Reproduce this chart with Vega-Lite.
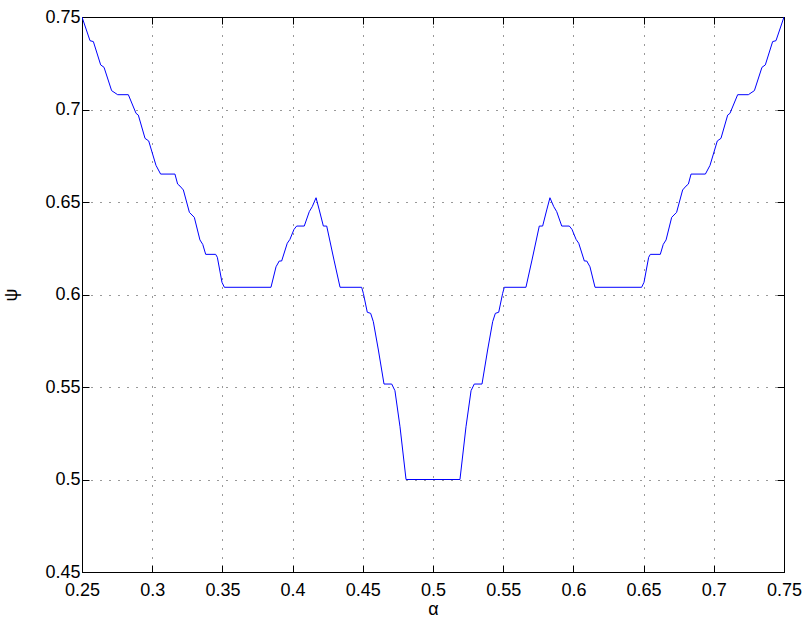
{
  "$schema": "https://vega.github.io/schema/vega-lite/v6.json",
  "width": 702,
  "height": 555,
  "autosize": {"type": "none"},
  "padding": {"left": 82, "top": 17, "right": 22, "bottom": 47},
  "background": "white",
  "config": {
    "view": {"stroke": "black", "strokeWidth": 1},
    "font": "Liberation Sans",
    "axis": {
      "domainColor": "black",
      "domainWidth": 1,
      "tickColor": "black",
      "tickSize": -7,
      "tickWidth": 1,
      "labelColor": "black",
      "labelFont": "Liberation Sans",
      "labelFontSize": 18,
      "titleFont": "Liberation Sans",
      "titleFontSize": 18,
      "titleFontWeight": "normal",
      "titleColor": "black",
      "gridColor": "black",
      "gridDash": [1, 8],
      "gridWidth": 1,
      "gridOpacity": 0.8
    }
  },
  "data": {
    "values": [
      {"alpha": 0.25, "psi": 0.75},
      {"alpha": 0.2557, "psi": 0.7372},
      {"alpha": 0.2581, "psi": 0.7367},
      {"alpha": 0.2633, "psi": 0.7241},
      {"alpha": 0.2657, "psi": 0.7228},
      {"alpha": 0.2711, "psi": 0.7102},
      {"alpha": 0.2754, "psi": 0.708},
      {"alpha": 0.283, "psi": 0.708},
      {"alpha": 0.2885, "psi": 0.6979},
      {"alpha": 0.2901, "psi": 0.697},
      {"alpha": 0.2949, "psi": 0.6844},
      {"alpha": 0.2975, "psi": 0.683},
      {"alpha": 0.3027, "psi": 0.6698},
      {"alpha": 0.306, "psi": 0.6651},
      {"alpha": 0.3162, "psi": 0.6651},
      {"alpha": 0.3181, "psi": 0.6597},
      {"alpha": 0.3198, "psi": 0.6586},
      {"alpha": 0.3222, "psi": 0.6565},
      {"alpha": 0.3265, "psi": 0.6444},
      {"alpha": 0.33, "psi": 0.6417},
      {"alpha": 0.334, "psi": 0.6295},
      {"alpha": 0.336, "psi": 0.6271},
      {"alpha": 0.3381, "psi": 0.6217},
      {"alpha": 0.3452, "psi": 0.6217},
      {"alpha": 0.3464, "psi": 0.6201},
      {"alpha": 0.3497, "psi": 0.6066},
      {"alpha": 0.3514, "psi": 0.6039},
      {"alpha": 0.3846, "psi": 0.6039},
      {"alpha": 0.3882, "psi": 0.615},
      {"alpha": 0.3905, "psi": 0.6181},
      {"alpha": 0.3922, "psi": 0.6181},
      {"alpha": 0.3962, "psi": 0.6277},
      {"alpha": 0.3981, "psi": 0.6298},
      {"alpha": 0.401, "psi": 0.6352},
      {"alpha": 0.4029, "psi": 0.637},
      {"alpha": 0.4083, "psi": 0.637},
      {"alpha": 0.4119, "psi": 0.6448},
      {"alpha": 0.414, "psi": 0.6475},
      {"alpha": 0.4167, "psi": 0.6523},
      {"alpha": 0.419, "psi": 0.6457},
      {"alpha": 0.4219, "psi": 0.637},
      {"alpha": 0.4243, "psi": 0.637},
      {"alpha": 0.4295, "psi": 0.6186},
      {"alpha": 0.4338, "psi": 0.6039},
      {"alpha": 0.4492, "psi": 0.6039},
      {"alpha": 0.4504, "psi": 0.6006},
      {"alpha": 0.4532, "psi": 0.5904},
      {"alpha": 0.4556, "psi": 0.5898},
      {"alpha": 0.4575, "psi": 0.5853},
      {"alpha": 0.4611, "psi": 0.57},
      {"alpha": 0.4651, "psi": 0.5516},
      {"alpha": 0.4706, "psi": 0.5516},
      {"alpha": 0.4729, "psi": 0.548},
      {"alpha": 0.4765, "psi": 0.5285},
      {"alpha": 0.4808, "psi": 0.5},
      {"alpha": 0.5192, "psi": 0.5},
      {"alpha": 0.5235, "psi": 0.5285},
      {"alpha": 0.5271, "psi": 0.548},
      {"alpha": 0.5294, "psi": 0.5516},
      {"alpha": 0.5349, "psi": 0.5516},
      {"alpha": 0.5389, "psi": 0.57},
      {"alpha": 0.5425, "psi": 0.5853},
      {"alpha": 0.5444, "psi": 0.5898},
      {"alpha": 0.5468, "psi": 0.5904},
      {"alpha": 0.5496, "psi": 0.6006},
      {"alpha": 0.5508, "psi": 0.6039},
      {"alpha": 0.5662, "psi": 0.6039},
      {"alpha": 0.5705, "psi": 0.6186},
      {"alpha": 0.5757, "psi": 0.637},
      {"alpha": 0.5781, "psi": 0.637},
      {"alpha": 0.581, "psi": 0.6457},
      {"alpha": 0.5833, "psi": 0.6523},
      {"alpha": 0.586, "psi": 0.6475},
      {"alpha": 0.5881, "psi": 0.6448},
      {"alpha": 0.5917, "psi": 0.637},
      {"alpha": 0.5971, "psi": 0.637},
      {"alpha": 0.599, "psi": 0.6352},
      {"alpha": 0.6019, "psi": 0.6298},
      {"alpha": 0.6038, "psi": 0.6277},
      {"alpha": 0.6078, "psi": 0.6181},
      {"alpha": 0.6095, "psi": 0.6181},
      {"alpha": 0.6118, "psi": 0.615},
      {"alpha": 0.6154, "psi": 0.6039},
      {"alpha": 0.6486, "psi": 0.6039},
      {"alpha": 0.6503, "psi": 0.6066},
      {"alpha": 0.6536, "psi": 0.6201},
      {"alpha": 0.6548, "psi": 0.6217},
      {"alpha": 0.6619, "psi": 0.6217},
      {"alpha": 0.664, "psi": 0.6271},
      {"alpha": 0.666, "psi": 0.6295},
      {"alpha": 0.67, "psi": 0.6417},
      {"alpha": 0.6735, "psi": 0.6444},
      {"alpha": 0.6778, "psi": 0.6565},
      {"alpha": 0.6802, "psi": 0.6586},
      {"alpha": 0.6819, "psi": 0.6597},
      {"alpha": 0.6838, "psi": 0.6651},
      {"alpha": 0.694, "psi": 0.6651},
      {"alpha": 0.6973, "psi": 0.6698},
      {"alpha": 0.7025, "psi": 0.683},
      {"alpha": 0.7051, "psi": 0.6844},
      {"alpha": 0.7099, "psi": 0.697},
      {"alpha": 0.7115, "psi": 0.6979},
      {"alpha": 0.717, "psi": 0.708},
      {"alpha": 0.7246, "psi": 0.708},
      {"alpha": 0.7289, "psi": 0.7102},
      {"alpha": 0.7343, "psi": 0.7228},
      {"alpha": 0.7367, "psi": 0.7241},
      {"alpha": 0.7419, "psi": 0.7367},
      {"alpha": 0.7443, "psi": 0.7372},
      {"alpha": 0.75, "psi": 0.75}
    ]
  },
  "layer": [
    {
      "mark": {"type": "line", "color": "#0000ff", "strokeWidth": 1, "clip": true},
      "encoding": {
        "x": {
          "field": "alpha", "type": "quantitative",
          "scale": {"domain": [0.25, 0.75], "nice": false, "zero": false},
          "axis": {
            "orient": "bottom", "title": "α",
            "values": [0.25, 0.3, 0.35, 0.4, 0.45, 0.5, 0.55, 0.6, 0.65, 0.7, 0.75],
            "format": ".2~f", "labelPadding": 16, "titlePadding": 1,
            "labelFlush": false, "labelOverlap": false
          }
        },
        "y": {
          "field": "psi", "type": "quantitative",
          "scale": {"domain": [0.45, 0.75], "nice": false, "zero": false},
          "axis": {
            "orient": "left", "title": "ψ",
            "values": [0.45, 0.5, 0.55, 0.6, 0.65, 0.7, 0.75],
            "format": ".2~f", "labelPadding": 9, "titlePadding": 24,
            "labelFlush": false, "labelOverlap": false
          }
        }
      }
    },
    {
      "mark": {"type": "line", "opacity": 0},
      "encoding": {
        "x": {
          "field": "alpha", "type": "quantitative",
          "axis": {
            "orient": "top", "title": null, "labels": false, "grid": false,
            "values": [0.25, 0.3, 0.35, 0.4, 0.45, 0.5, 0.55, 0.6, 0.65, 0.7, 0.75]
          }
        },
        "y": {
          "field": "psi", "type": "quantitative",
          "axis": {
            "orient": "right", "title": null, "labels": false, "grid": false,
            "values": [0.45, 0.5, 0.55, 0.6, 0.65, 0.7, 0.75]
          }
        }
      }
    }
  ],
  "resolve": {"axis": {"x": "independent", "y": "independent"}}
}
